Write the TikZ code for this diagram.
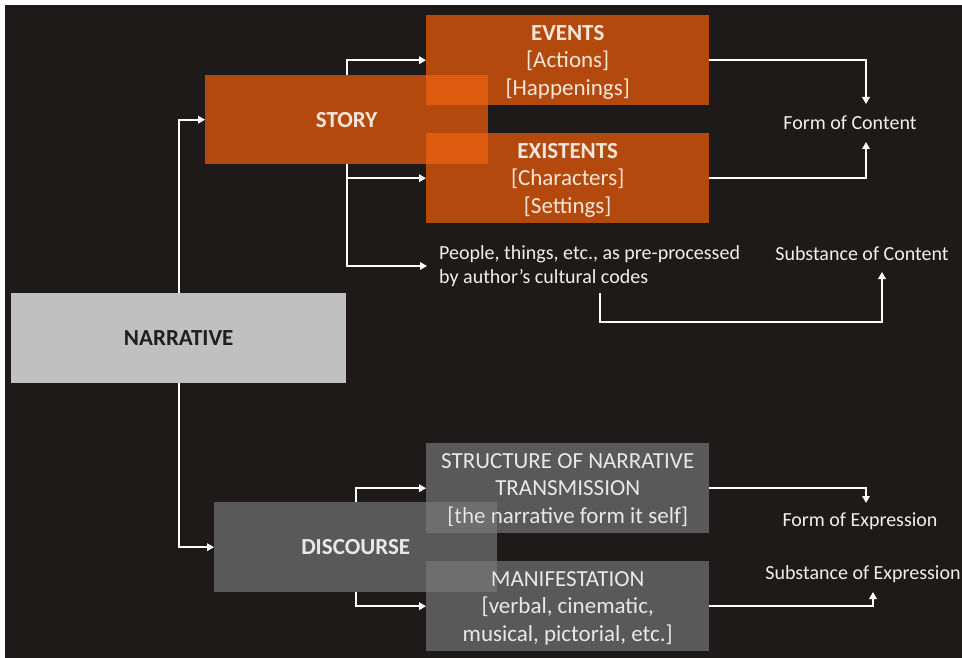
\documentclass[tikz,border=0pt]{standalone}
\usepackage{fontspec}
\setmainfont{Carlito}
\usetikzlibrary{arrows.meta}

\definecolor{bgdark}{HTML}{1E1A19}
\definecolor{storyor}{HTML}{B4490E}
\definecolor{storyhi}{HTML}{DE5A0B}
\definecolor{discgray}{HTML}{595959}
\definecolor{dischi}{HTML}{6E6E6E}
\definecolor{narrgray}{HTML}{C0C0C0}
\definecolor{ortext}{HTML}{F5E6DA}
\definecolor{graytext}{HTML}{E8E8E8}
\definecolor{labeltext}{HTML}{EFEFEF}

\tikzset{
  box/.style={anchor=north west, minimum width=283pt, minimum height=90pt,
    inner sep=0pt, text depth=0pt, align=center,
    font=\fontsize{23}{27.5}\selectfont},
  orbox/.style={box, fill=storyor, text=ortext},
  graybox/.style={box, fill=discgray, text=graytext},
  % where two boxes overlap the ground turns lighter, the text stays on top
  overlap/.style={blend mode=lighten},
  lbl/.style={text=labeltext, font=\fontsize{20}{24}\selectfont, inner sep=0pt},
  link/.style={draw=white, line width=2pt,
    -{Triangle[length=7pt,width=7.5pt]}},
}

\begin{document}
\begin{tikzpicture}[x=1pt,y=-1pt]
  % page and dark ground
  \fill[white] (0,0) rectangle (962,658);
  \fill[bgdark] (5,5) rectangle (962,658);
  \useasboundingbox (0,0) rectangle (962,658);

  % story branch
  \node[orbox, minimum height=89pt] (story) at (205,75) {\textbf{STORY}};
  \node[orbox] (events) at (426,15) {\textbf{EVENTS}\\{[Actions]}\\{[Happenings]}};
  \node[orbox] (existents) at (426,133) {\textbf{EXISTENTS}\\{[Characters]}\\{[Settings]}};
  \begin{scope}[overlap]
    \fill[storyhi] (426,75) rectangle (488,105);
    \fill[storyhi] (426,133) rectangle (488,164);
  \end{scope}

  % root
  \node[box, minimum width=335pt, fill=narrgray, text=black!88]
    (narrative) at (11,293) {\textbf{NARRATIVE}};

  % discourse branch
  \node[graybox] (discourse) at (214,502) {\textbf{DISCOURSE}};
  \node[graybox] (structure) at (426,443)
    {STRUCTURE OF NARRATIVE\\TRANSMISSION\\{[the narrative form it self]}};
  \node[graybox] (manif) at (426,561)
    {MANIFESTATION\\{[verbal, cinematic,}\\{musical, pictorial, etc.]}};
  \begin{scope}[overlap]
    \fill[dischi] (426,502) rectangle (497,533);
    \fill[dischi] (426,561) rectangle (497,592);
  \end{scope}

  % side labels
  \node[lbl] (formc) at (850,123) {Form of Content};
  \node[lbl] (substc) at (862,254) {Substance of Content};
  \node[lbl, align=left, anchor=west, inner xsep=12pt] (people) at (427,266)
    {People, things, etc., as pre-processed\\by author’s cultural codes};
  \node[lbl] (forme) at (860,521) {Form of Expression};
  \node[lbl] (subste) at (863,574) {Substance of Expression};

  % free ends of the connectors
  \coordinate (fcIn1) at (866,104);
  \coordinate (fcIn2) at (866,142);
  \coordinate (peopleOut) at (600,293);
  \coordinate (scBend) at (882,322);
  \coordinate (scIn) at (882,272);
  \coordinate (feIn) at (866,503);
  \coordinate (seIn) at (873,592);

  % connectors
  \draw[link] (narrative.north) |- (story.west);
  \draw[link] (narrative.south) |- (discourse.west);
  \draw[link] (story.north) |- (events.west);
  \draw[link] (story.south) |- (existents.west);
  \draw[link] (story.south) |- (people.west);
  \draw[link] (discourse.north) |- (structure.west);
  \draw[link] (discourse.south) |- (manif.west);
  \draw[link] (events.east) -| (fcIn1);
  \draw[link] (existents.east) -| (fcIn2);
  \draw[link] (peopleOut) |- (scBend) -- (scIn);
  \draw[link] (structure.east) -| (feIn);
  \draw[link] (manif.east) -| (seIn);
\end{tikzpicture}
\end{document}
